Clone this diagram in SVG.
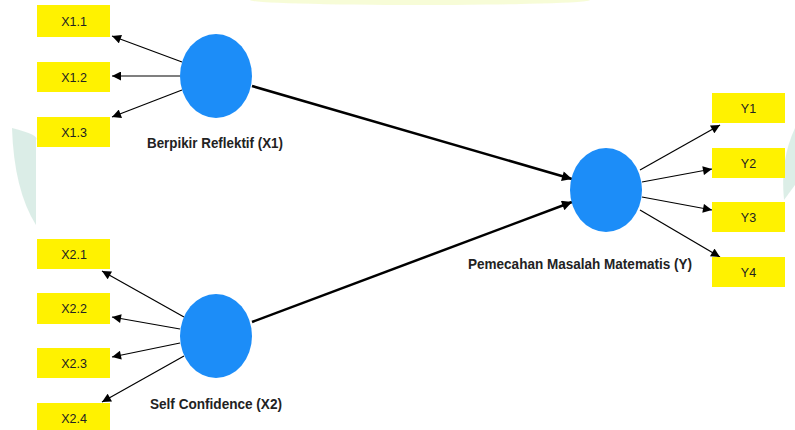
<svg xmlns="http://www.w3.org/2000/svg" width="795" height="430" viewBox="0 0 795 430">
<defs>
<marker id="ah" viewBox="0 0 10 10" refX="10" refY="5" markerWidth="10" markerHeight="9" markerUnits="userSpaceOnUse" orient="auto">
<path d="M0,0 L10,5 L0,10 z" fill="#000"/>
</marker>
<marker id="ahb" viewBox="0 0 10 10" refX="10" refY="5" markerWidth="12" markerHeight="10" markerUnits="userSpaceOnUse" orient="auto">
<path d="M0,0 L10,5 L0,10 z" fill="#000"/>
</marker>
</defs>
<style>
.box{fill:#FFF200;}
.lat{fill:#1C8DF8;}
.bt{font-family:"Liberation Sans",Arial,sans-serif;font-size:12.5px;fill:#222;text-anchor:middle;}
.lt{font-family:"Liberation Sans",Arial,sans-serif;font-size:14px;font-weight:bold;fill:#222;text-anchor:middle;}
.ld{stroke:#000;stroke-width:1.2;fill:none;marker-end:url(#ah);}
.pt{stroke:#000;stroke-width:2.5;fill:none;marker-end:url(#ahb);}
</style>
<rect width="795" height="430" fill="#fff"/>
<g id="watermark" opacity="0.5">
<path d="M12,128 Q40,135 36,140 L36,225 Q14,190 12,128 z" fill="#b9ddd0"/>
<path d="M795,128 Q780,160 784,200 L795,185 z" fill="#b9ddd0"/>
<ellipse cx="420" cy="0" rx="170" ry="5" fill="#f0f9b0"/>
</g>
<g id="connectors">
<line class="ld" x1="182" y1="62" x2="112" y2="36"/>
<line class="ld" x1="180" y1="76" x2="112" y2="76"/>
<line class="ld" x1="182" y1="90" x2="112" y2="117"/>
<line class="ld" x1="184" y1="317" x2="102" y2="271"/>
<line class="ld" x1="180" y1="329" x2="112" y2="317"/>
<line class="ld" x1="180" y1="343" x2="112" y2="357"/>
<line class="ld" x1="184" y1="356" x2="102" y2="402"/>
<line class="pt" x1="252" y1="86" x2="572" y2="179"/>
<line class="pt" x1="252" y1="322" x2="572" y2="202"/>
<line class="ld" x1="640" y1="170" x2="720" y2="125"/>
<line class="ld" x1="642" y1="182" x2="712" y2="169"/>
<line class="ld" x1="642" y1="197" x2="712" y2="210"/>
<line class="ld" x1="640" y1="210" x2="720" y2="257"/>
</g>
<g id="X1.1"><rect class="box" x="37" y="5" width="73" height="32"/><text class="bt" x="74" y="25.5">X1.1</text></g>
<g id="X1.2"><rect class="box" x="37" y="62" width="73" height="30"/><text class="bt" x="74" y="81.5">X1.2</text></g>
<g id="X1.3"><rect class="box" x="37" y="117" width="73" height="30"/><text class="bt" x="74" y="136.5">X1.3</text></g>
<g id="X2.1"><rect class="box" x="37" y="239" width="73" height="30"/><text class="bt" x="74" y="258.5">X2.1</text></g>
<g id="X2.2"><rect class="box" x="37" y="293" width="73" height="31"/><text class="bt" x="74" y="313">X2.2</text></g>
<g id="X2.3"><rect class="box" x="37" y="348" width="73" height="30"/><text class="bt" x="74" y="367.5">X2.3</text></g>
<g id="X2.4"><rect class="box" x="37" y="403" width="73" height="30"/><text class="bt" x="74" y="422.5">X2.4</text></g>
<g id="Y1"><rect class="box" x="712" y="93" width="73" height="30"/><text class="bt" x="748.5" y="112.5">Y1</text></g>
<g id="Y2"><rect class="box" x="712" y="148" width="73" height="30"/><text class="bt" x="748.5" y="167.5">Y2</text></g>
<g id="Y3"><rect class="box" x="712" y="202" width="73" height="30"/><text class="bt" x="748.5" y="221.5">Y3</text></g>
<g id="Y4"><rect class="box" x="712" y="257" width="73" height="30"/><text class="bt" x="748.5" y="276.5">Y4</text></g>
<g id="X1"><ellipse class="lat" cx="216" cy="76" rx="36" ry="42"/><text class="lt" x="215" y="148" textLength="136" lengthAdjust="spacingAndGlyphs">Berpikir Reflektif (X1)</text></g>
<g id="X2"><ellipse class="lat" cx="216" cy="336" rx="36" ry="42"/><text class="lt" x="216" y="409" textLength="132" lengthAdjust="spacingAndGlyphs">Self Confidence (X2)</text></g>
<g id="Y"><ellipse class="lat" cx="606" cy="190" rx="36" ry="42"/><text class="lt" x="580" y="269" textLength="224" lengthAdjust="spacingAndGlyphs">Pemecahan Masalah Matematis (Y)</text></g>
</svg>
